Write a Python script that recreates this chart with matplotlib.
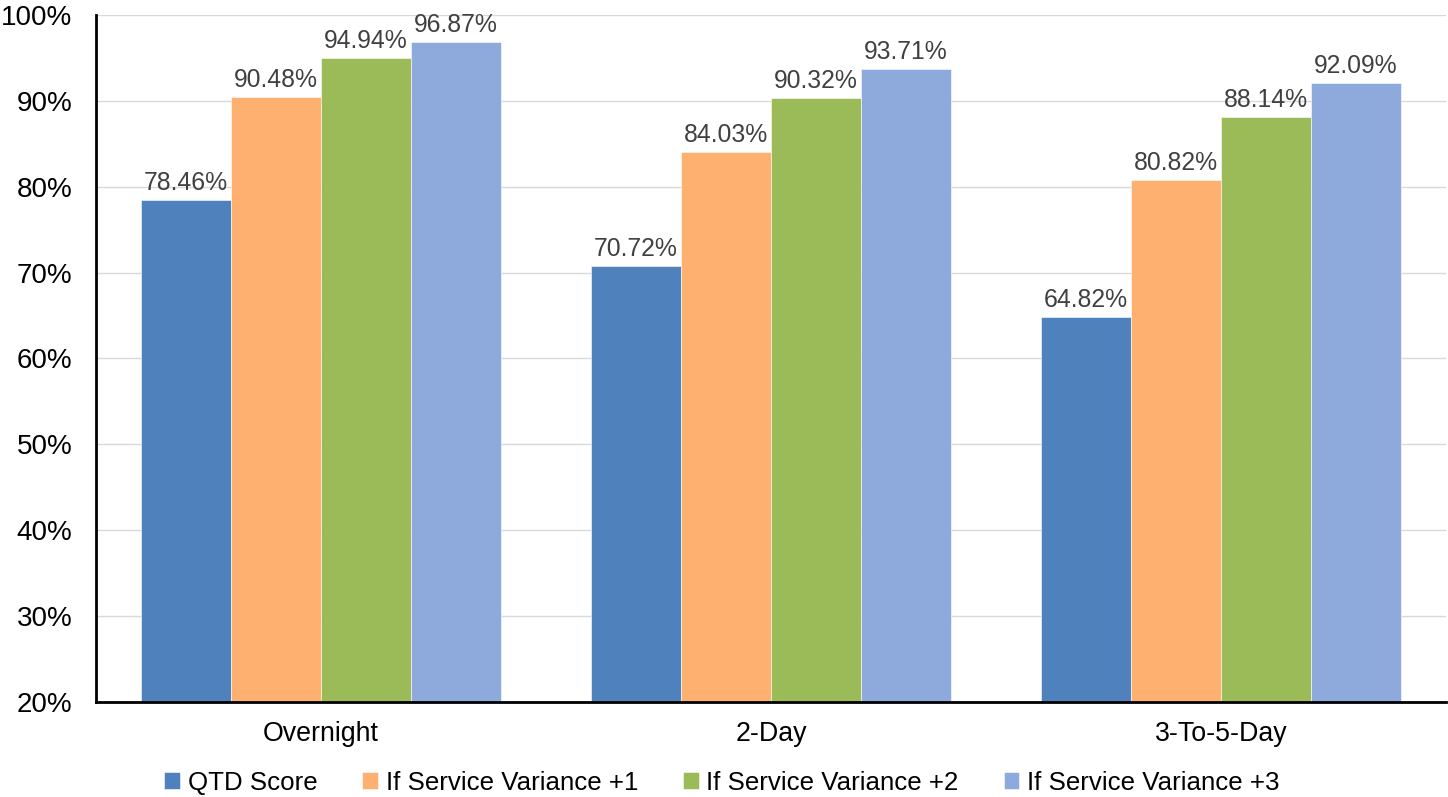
import matplotlib
matplotlib.use("Agg")
import matplotlib.pyplot as plt
import numpy as np

plt.rcParams['font.family'] = ['Liberation Sans', 'DejaVu Sans']

categories = ["Overnight", "2-Day", "3-To-5-Day"]
series_names = ["QTD Score", "If Service Variance +1", "If Service Variance +2", "If Service Variance +3"]
qtd_score = [78.46, 70.72, 64.82]
variance_1 = [90.48, 84.03, 80.82]
variance_2 = [94.94, 90.32, 88.14]
variance_3 = [96.87, 93.71, 92.09]
y_ticks = [20, 30, 40, 50, 60, 70, 80, 90, 100]

series = [qtd_score, variance_1, variance_2, variance_3]
colors = ["#4F81BD", "#FDB06F", "#9BBB59", "#8EA9DB"]

fig = plt.figure(figsize=(14.48, 7.97), dpi=100)
ax = fig.add_axes([0.0663, 0.1192, 0.9323, 0.862])

x = np.arange(len(categories))
width = 0.2
for i, (vals, name, c) in enumerate(zip(series, series_names, colors)):
    pos = x + (i - 1.5) * width
    bars = ax.bar(pos, vals, width, color=c, label=name, edgecolor="white",
                  linewidth=0.4, zorder=3)
    for b, v in zip(bars, vals):
        ax.text(b.get_x() + b.get_width() / 2, v + 0.6, f"{v:.2f}%",
                ha="center", va="bottom", fontsize=17.8, color="#404040", zorder=4)

ax.set_xlim(-0.5, len(categories) - 0.5)
ax.set_ylim(20, 100)
ax.set_yticks(y_ticks)
ax.set_yticklabels([f"{t}%" for t in y_ticks], fontsize=20)
ax.set_xticks(x)
ax.set_xticklabels(categories, fontsize=19.3)
ax.tick_params(axis="y", length=0, pad=17)
ax.tick_params(axis="x", length=0, pad=14)
ax.grid(axis="y", color="#D9D9D9", linewidth=1, zorder=0)
for s in ["top", "right"]:
    ax.spines[s].set_visible(False)
ax.spines["left"].set_linewidth(2)
ax.spines["bottom"].set_linewidth(2)
ax.spines["left"].set_zorder(5)
ax.spines["bottom"].set_zorder(5)

fig.legend(loc="center", bbox_to_anchor=(0.4986, 0.018), ncol=4, frameon=False,
           fontsize=18.6, handlelength=0.6, handleheight=0.6, handletextpad=0.3,
           columnspacing=1.75)

fig.savefig("out.png", dpi=100)
